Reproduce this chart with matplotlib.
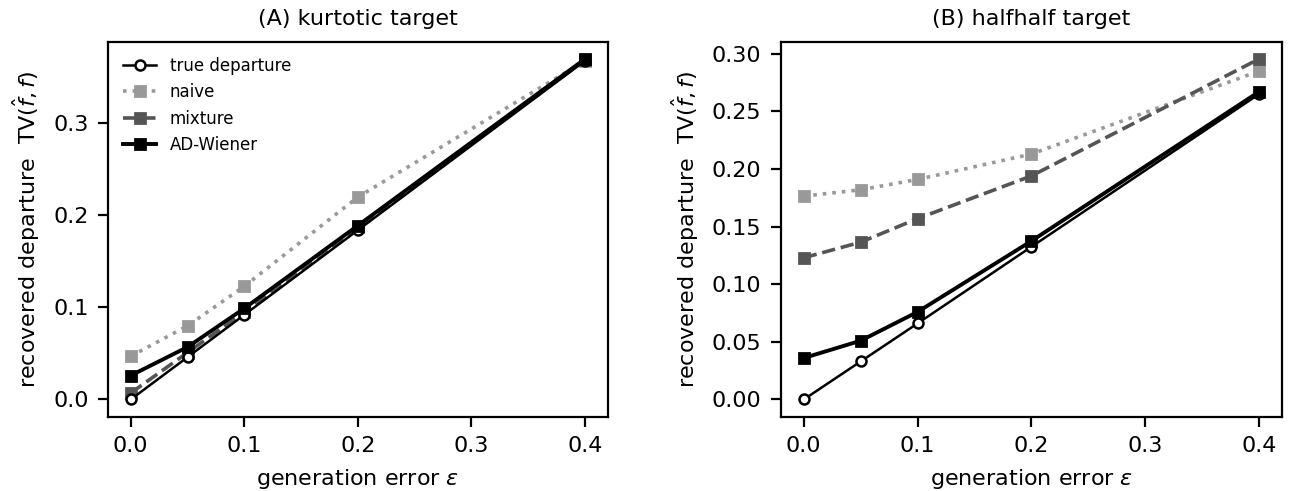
import numpy as np
import matplotlib
matplotlib.use("Agg")
import matplotlib.pyplot as plt

# generation error levels
eps = [0.0, 0.05, 0.1, 0.2, 0.4]

# (A) kurtotic target
kurt_true = [0.000, 0.046, 0.092, 0.184, 0.368]
kurt_naive = [0.047, 0.080, 0.123, 0.220, 0.368]
kurt_mix = [0.007, 0.051, 0.095, 0.187, 0.369]
kurt_adw = [0.026, 0.057, 0.099, 0.189, 0.370]

# (B) halfhalf target
half_true = [0.000, 0.033, 0.066, 0.1325, 0.265]
half_naive = [0.1765, 0.182, 0.191, 0.213, 0.285]
half_mix = [0.123, 0.1365, 0.157, 0.194, 0.2955]
half_adw = [0.036, 0.051, 0.076, 0.1375, 0.267]

titles = ["(A) kurtotic target", "(B) halfhalf target"]
yticks_a = [0.0, 0.1, 0.2, 0.3]
yticks_b = [0.0, 0.05, 0.10, 0.15, 0.20, 0.25, 0.30]

plt.rcParams["font.size"] = 8

fig = plt.figure(figsize=(6.53, 2.455), dpi=200)
ax1 = fig.add_axes([0.0827, 0.1517, 0.3826, 0.7628])
ax2 = fig.add_axes([0.598, 0.1517, 0.3834, 0.7628])


def panel(ax, tr, nv, mx, ad, title, yt, legend=False):
    ax.plot(eps, tr, color="black", lw=0.9, marker="o", ms=3.6,
            mfc="white", mec="black", mew=0.9, label="true departure", zorder=4)
    ax.plot(eps, nv, color="#999999", lw=1.3, ls=":", marker="s", ms=3.6,
            label="naive", zorder=2)
    ax.plot(eps, mx, color="#555555", lw=1.3, ls="--", marker="s", ms=3.6,
            label="mixture", zorder=3)
    ax.plot(eps, ad, color="black", lw=1.4, marker="s", ms=3.6,
            label="AD-Wiener", zorder=5)
    ax.set_title(title, fontsize=8)
    ax.set_xlabel(r"generation error $\varepsilon$", fontsize=8)
    ax.set_ylabel(r"recovered departure  TV$(\hat{f}, f)$", fontsize=8)
    ax.set_xticks([0.0, 0.1, 0.2, 0.3, 0.4])
    ax.set_yticks(yt)
    ax.tick_params(labelsize=8)
    if legend:
        ax.legend(loc="upper left", frameon=False, fontsize=6)


panel(ax1, kurt_true, kurt_naive, kurt_mix, kurt_adw, titles[0], yticks_a, legend=True)
panel(ax2, half_true, half_naive, half_mix, half_adw, titles[1], yticks_b)

fig.savefig("out.png", dpi=200)
